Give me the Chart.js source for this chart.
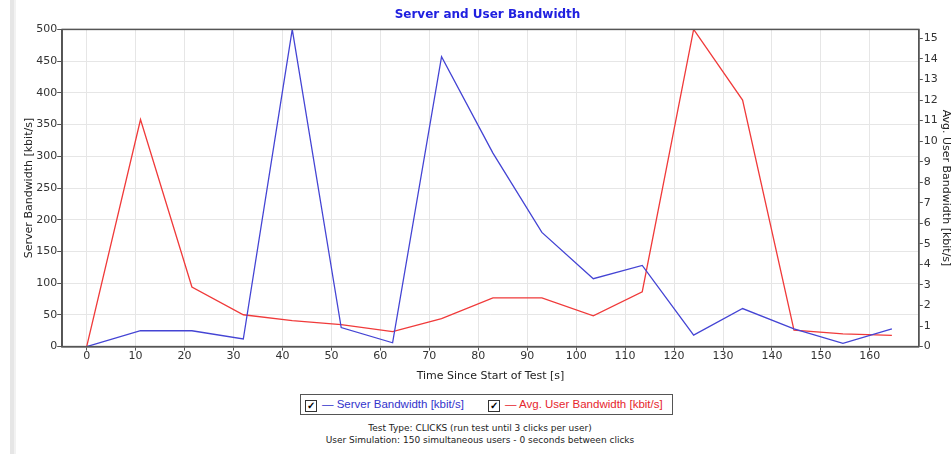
<!DOCTYPE html>
<html>
<head>
<meta charset="utf-8">
<script src="https://cdn.jsdelivr.net/npm/chart.js@4/dist/chart.umd.min.js"></script>
<style>
    html, body { margin: 0; padding: 0; background: #fff; }
    body { width: 952px; height: 454px; position: relative; overflow: hidden; font-family: "DejaVu Sans", sans-serif; }
    #edge { position: absolute; left: 10px; top: 0; width: 4px; height: 454px; background: #e6e6e6; border-right: 2px solid #f2f2f2; }
    #chartBox { position: absolute; left: 0; top: 0; width: 952px; height: 383px; }
    #legend { position: absolute; left: 300px; top: 394px; width: 371px; height: 19px; border: 1px solid #555; font-family: "Liberation Sans", sans-serif; font-size: 11.5px; line-height: 19px; white-space: nowrap; }
    #legend span.item { position: absolute; top: 0; }
    #legend .chk { display: inline-block; width: 10px; height: 10px; border: 1px solid #333; font-size: 10px; line-height: 10px; text-align: center; vertical-align: -1px; margin-right: 5px; color: #000; font-weight: bold; }
    #notes { position: absolute; left: 280px; top: 422px; width: 400px; text-align: center; font-size: 9px; line-height: 12px; color: #222; }
</style>
</head>
<body>
<div id="edge"></div>
<div id="chartBox"><canvas id="bw"></canvas></div>
<div id="legend">
    <span class="item" style="left:4px;color:#3333cc"><span class="chk">&#10003;</span>&mdash; Server Bandwidth [kbit/s]</span>
    <span class="item" style="left:187px;color:#e6262e"><span class="chk">&#10003;</span>&mdash; Avg. User Bandwidth [kbit/s]</span>
</div>
<div id="notes">Test Type: CLICKS (run test until 3 clicks per user)<br>User Simulation: 150 simultaneous users - 0 seconds between clicks</div>
<script>
// sample times (s) and the two series
const times = [0, 11, 21.5, 32, 42, 52, 62.5, 72.5, 83, 93, 103.5, 113.5, 124, 134, 144.5, 154.5, 164.5];
const serverBandwidth = [0, 25, 25, 12, 500, 30, 6, 457, 305, 180, 107, 128, 18, 60, 28, 5, 28];
const userBandwidth = [0, 11.05, 2.9, 1.55, 1.26, 1.07, 0.73, 1.36, 2.37, 2.37, 1.5, 2.67, 15.44, 12.0, 0.8, 0.62, 0.55];

const axisFont = { family: "DejaVu Sans", size: 11 };
const darkLine = '#555';

// draw frame round plot area
const frame = {
    id: 'frame',
    afterDraw(chart) {
        const a = chart.chartArea, ctx = chart.ctx;
        ctx.save();
        ctx.strokeStyle = darkLine;
        ctx.lineWidth = 1.5;
        ctx.strokeRect(a.left, a.top, a.right - a.left, a.bottom - a.top);
        ctx.restore();
    }
};

new Chart(document.getElementById('bw'), {
    type: 'line',
    data: {
        datasets: [
            {
                label: 'Server Bandwidth [kbit/s]',
                data: times.map((t, i) => ({ x: t, y: serverBandwidth[i] })),
                borderColor: '#4444d4',
                borderWidth: 1.3,
                pointRadius: 0,
                yAxisID: 'y'
            },
            {
                label: 'Avg. User Bandwidth [kbit/s]',
                data: times.map((t, i) => ({ x: t, y: userBandwidth[i] })),
                borderColor: '#f03a3a',
                borderWidth: 1.3,
                pointRadius: 0,
                yAxisID: 'y2'
            }
        ]
    },
    options: {
        responsive: true,
        maintainAspectRatio: false,
        animation: false,
        layout: { padding: { left: 23, right: 0, top: 0, bottom: 0 } },
        plugins: {
            legend: { display: false },
            tooltip: { enabled: false },
            title: {
                display: true,
                text: 'Server and User Bandwidth',
                color: '#2020e0',
                font: { family: "DejaVu Sans", size: 12, weight: 'bold' },
                padding: { top: 8, bottom: 7 }
            }
        },
        scales: {
            x: {
                type: 'linear',
                min: -5,
                max: 170,
                afterBuildTicks: axis => { axis.ticks = axis.ticks.filter(t => t.value >= 0 && t.value <= 160); },
                ticks: { stepSize: 10, includeBounds: false, color: '#333', font: axisFont, padding: -1 },
                grid: { color: '#e6e6e6', tickColor: darkLine, tickLength: 4 },
                border: { color: darkLine, width: 1.5 },
                title: { display: true, text: 'Time Since Start of Test [s]', color: '#222', font: axisFont, padding: { top: 8, bottom: 0 } }
            },
            y: {
                position: 'left',
                min: 0,
                max: 500,
                ticks: { stepSize: 50, color: '#333', font: axisFont, padding: 0 },
                grid: { color: '#e6e6e6', tickColor: darkLine, tickLength: 5 },
                border: { color: darkLine, width: 1.5 },
                title: { display: true, text: 'Server Bandwidth [kbit/s]', color: '#222', font: axisFont, padding: 0 }
            },
            y2: {
                position: 'right',
                min: 0,
                max: 15.44,
                ticks: { stepSize: 1, includeBounds: false, color: '#333', font: axisFont, padding: 1 },
                grid: { drawOnChartArea: false, tickColor: darkLine, tickLength: 4 },
                border: { color: darkLine, width: 1.5 },
                title: { display: true, text: 'Avg. User Bandwidth [kbit/s]', color: '#222', font: axisFont, padding: 0 }
            }
        }
    },
    plugins: [frame]
});
</script>
</body>
</html>
